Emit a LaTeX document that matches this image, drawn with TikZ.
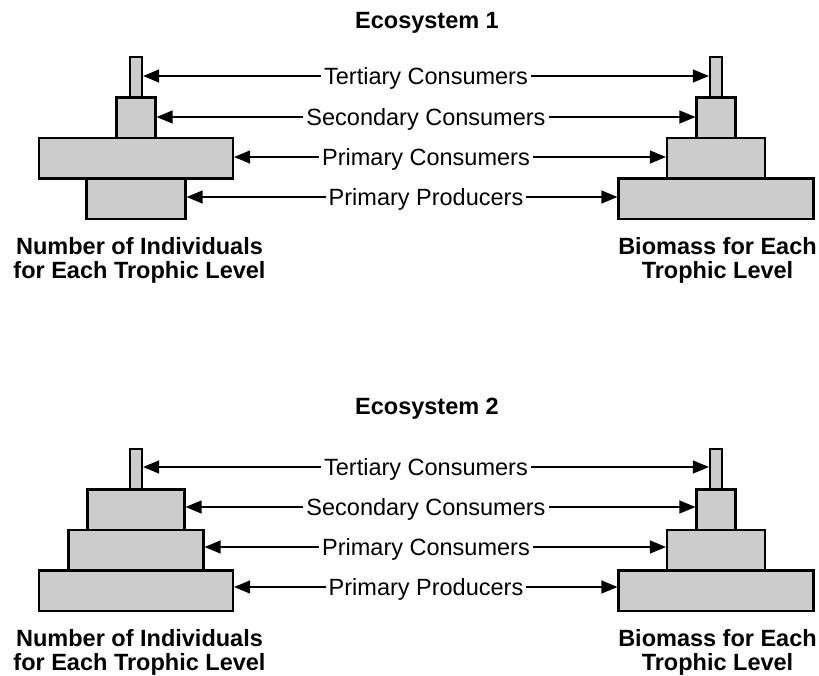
\documentclass[tikz,border=0pt]{standalone}
\usepackage{fontspec}
\setmainfont{Liberation Sans}
\usetikzlibrary{arrows.meta}

\begin{document}
\begin{tikzpicture}[x=1pt,y=-1pt,
        tier/.style={draw,line width=2.2pt,fill=gray!40,inner sep=0pt,minimum height=40.5pt},
        tag/.style={font=\fontsize{23.5}{23.5}\selectfont,text height=21.1pt,text depth=4.3pt,inner xsep=3pt},
        heading/.style={font=\fontsize{23.5}{23.5}\selectfont\bfseries,text height=21.1pt,text depth=4.3pt},
        caption/.style={font=\fontsize{23.5}{23.5}\selectfont\bfseries,align=center,anchor=north,inner sep=0pt},
        pointer/.style={line width=1.3pt,-{Triangle[length=16pt,width=13pt]}}]
    \useasboundingbox (0,0) rectangle (819,675);
    %% ecosystem 1
    \node[heading] (head1) at (427,20.5) {Ecosystem 1};
    %% pyramid of numbers
    \node[tier,minimum width=12pt] (nt1) at (136,77.25) {};
    \node[tier,minimum width=39pt] (ns1) at (136,117.75) {};
    \node[tier,minimum width=194pt] (nc1) at (136,158.25) {};
    \node[tier,minimum width=99pt] (np1) at (136,198.75) {};
    %% pyramid of biomass
    \node[tier,minimum width=12pt] (bt1) at (716,77.25) {};
    \node[tier,minimum width=39pt] (bs1) at (716,117.75) {};
    \node[tier,minimum width=98pt] (bc1) at (716,158.25) {};
    \node[tier,minimum width=195pt] (bp1) at (716,198.75) {};
    %% labels
    \node[tag] (t1) at (426,76) {Tertiary Consumers};
    \node[tag] (s1) at (426,117) {Secondary Consumers};
    \node[tag] (c1) at (426,157) {Primary Consumers};
    \node[tag] (p1) at (426,197) {Primary Producers};
    \draw[pointer] (t1.west) -- (t1.west -| nt1.east);
    \draw[pointer] (t1.east) -- (t1.east -| bt1.west);
    \draw[pointer] (s1.west) -- (s1.west -| ns1.east);
    \draw[pointer] (s1.east) -- (s1.east -| bs1.west);
    \draw[pointer] (c1.west) -- (c1.west -| nc1.east);
    \draw[pointer] (c1.east) -- (c1.east -| bc1.west);
    \draw[pointer] (p1.west) -- (p1.west -| np1.east);
    \draw[pointer] (p1.east) -- (p1.east -| bp1.west);
    \node[caption] (num1) at (139.5,237.5) {Number of Individuals\\for Each Trophic Level};
    \node[caption] (bio1) at (717.5,237.5) {Biomass for Each\\Trophic Level};
    %% ecosystem 2
    \node[heading] (head2) at (427,406.5) {Ecosystem 2};
    %% pyramid of numbers
    \node[tier,minimum width=12pt] (nt2) at (136,469.25) {};
    \node[tier,minimum width=97pt] (ns2) at (136,509.75) {};
    \node[tier,minimum width=135pt] (nc2) at (136,550.25) {};
    \node[tier,minimum width=194pt] (np2) at (136,590.75) {};
    %% pyramid of biomass
    \node[tier,minimum width=12pt] (bt2) at (716,469.25) {};
    \node[tier,minimum width=39pt] (bs2) at (716,509.75) {};
    \node[tier,minimum width=98pt] (bc2) at (716,550.25) {};
    \node[tier,minimum width=195pt] (bp2) at (716,590.75) {};
    %% labels
    \node[tag] (t2) at (426,467) {Tertiary Consumers};
    \node[tag] (s2) at (426,507) {Secondary Consumers};
    \node[tag] (c2) at (426,547) {Primary Consumers};
    \node[tag] (p2) at (426,587) {Primary Producers};
    \draw[pointer] (t2.west) -- (t2.west -| nt2.east);
    \draw[pointer] (t2.east) -- (t2.east -| bt2.west);
    \draw[pointer] (s2.west) -- (s2.west -| ns2.east);
    \draw[pointer] (s2.east) -- (s2.east -| bs2.west);
    \draw[pointer] (c2.west) -- (c2.west -| nc2.east);
    \draw[pointer] (c2.east) -- (c2.east -| bc2.west);
    \draw[pointer] (p2.west) -- (p2.west -| np2.east);
    \draw[pointer] (p2.east) -- (p2.east -| bp2.west);
    \node[caption] (num2) at (139.5,629.5) {Number of Individuals\\for Each Trophic Level};
    \node[caption] (bio2) at (717.5,629.5) {Biomass for Each\\Trophic Level};
\end{tikzpicture}
\end{document}
